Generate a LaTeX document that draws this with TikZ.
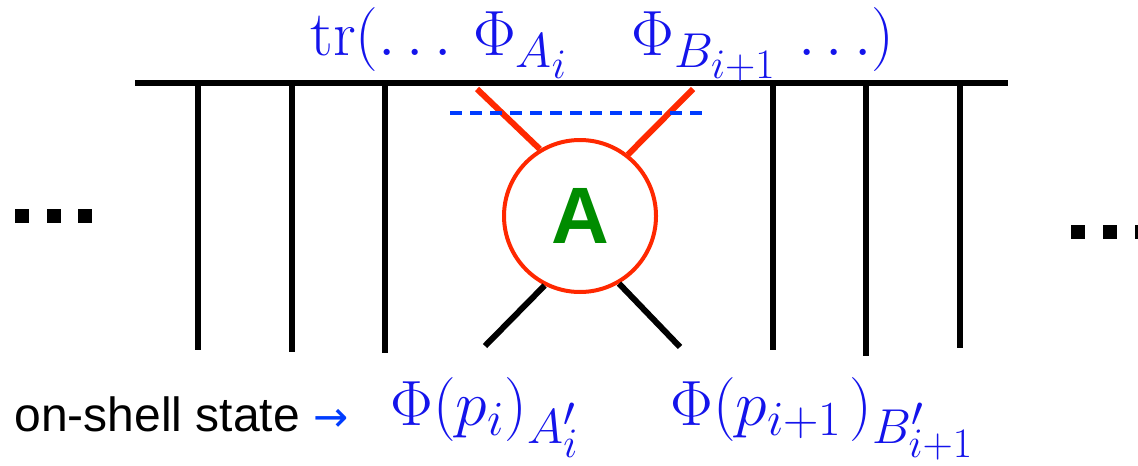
\RequirePackage{fix-cm}
\documentclass[tikz,border=0pt]{standalone}
\usepackage{fontspec}
\newfontfamily\helv{Liberation Sans}
\newfontfamily\arrowfont{DejaVu Sans}
\DeclareMathSizes{32}{32}{24.5}{21}
\usetikzlibrary{positioning, arrows.meta}
\definecolor{legred}{RGB}{255,40,0}
\definecolor{mathblue}{RGB}{20,20,235}
\definecolor{cutblue}{RGB}{0,60,255}
\definecolor{ampgreen}{RGB}{0,140,0}

\begin{document}
\begin{tikzpicture}[
        x=0.5pt, y=-0.5pt,
        leg/.style={line width=3pt, black},
        redleg/.style={line width=3pt, legred},
        cutline/.style={line width=2pt, cutblue, dash pattern=on 6pt off 4pt},
        amplitude/.style={
            circle,
            draw=legred,
            line width=2pt,
            minimum size=76pt,
            inner sep=0pt,
            fill=white,
            text=ampgreen,
            font=\helv\bfseries\fontsize{40}{40}\selectfont
        },
        mathlabel/.style={text=mathblue, inner sep=0pt, font=\fontsize{32}{40}\selectfont},
        dot/.style={fill=black}
    ]
        \useasboundingbox (0,0) rectangle (1138,465);

        % Trace line and its legs
        \coordinate (lineL) at (135,83);
        \coordinate (lineR) at (1008,83);
        \draw[leg, line cap=butt] (lineL) -- (lineR);
        \foreach \x/\yb [count=\i] in {198/350, 292/352, 385/353, 773/350, 866/356, 960/348} {
            \coordinate (top\i) at (\x,83);
            \coordinate (bot\i) at (\x,\yb);
            \draw[leg] (top\i) -- (bot\i);
        }

        % Amplitude blob
        \node[amplitude] (amp) at (580,216) {A};

        % Legs of the amplitude
        \coordinate (inA) at (477,89);
        \coordinate (inB) at (693,89);
        \coordinate (outA) at (485,346);
        \coordinate (outB) at (680,347);
        \draw[redleg] (amp.121) -- (inA);
        \draw[redleg] (amp.52) -- (inB);
        \draw[leg] (amp.243) -- (outA);
        \draw[leg] (amp.300) -- (outB);

        % Cut
        \coordinate (cutL) at (450,113);
        \coordinate (cutR) at (708,113);
        \draw[cutline] (cutL) -- (cutR);

        % Ellipses at the sides
        \foreach \x [count=\i] in {15,47,78} {
            \fill[dot] (\x,209) rectangle ++(14,14);
        }
        \foreach \x [count=\i] in {1071,1103,1135} {
            \fill[dot] (\x,225) rectangle ++(14,14);
        }

        % Labels
        \node[mathlabel, anchor=base west] (trace) at (310,56)
            {$\mathrm{tr}(\ldots\,\Phi_{A_i}\quad\Phi_{B_{i+1}}\,\ldots)$};
        \node[anchor=base west, inner sep=0pt, font=\helv\fontsize{24}{28}\selectfont] (state) at (14,431)
            {on-shell state \textcolor{cutblue}{\arrowfont\fontsize{21}{24}\selectfont →}};
        \node[mathlabel, anchor=base west] (phiA) at (390,425) {$\Phi(p_i)_{A'_i}$};
        \node[mathlabel, anchor=base west] (phiB) at (670,425)
            {$\Phi(p_{i+1}\mkern2mu)_{B'_{i+1}}$};
\end{tikzpicture}
\end{document}
